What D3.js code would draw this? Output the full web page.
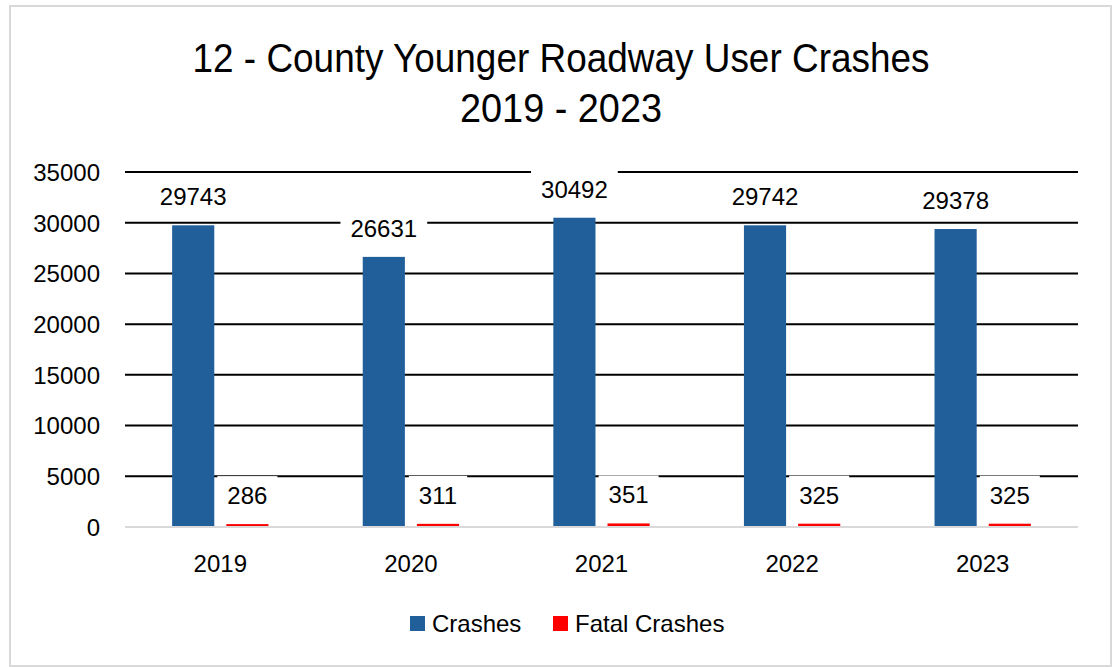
<!DOCTYPE html>
<html>
<head>
<meta charset="utf-8">
<script src="https://cdn.jsdelivr.net/npm/d3@7"></script>
<style>
  html, body { margin: 0; padding: 0; background: #fff; }
  svg { display: block; }
  text { font-family: "Liberation Sans", Arial, sans-serif; fill: #000; }
</style>
</head>
<body>
<svg id="chart" width="1115" height="667"></svg>
<script>
const years = ["2019", "2020", "2021", "2022", "2023"];
const seriesNames = ["Crashes", "Fatal Crashes"];
const crashes = [29743, 26631, 30492, 29742, 29378];
const fatalCrashes = [286, 311, 351, 325, 325];
const yTicks = [0, 5000, 10000, 15000, 20000, 25000, 30000, 35000];
const titleLines = ["12 - County Younger Roadway User Crashes", "2019 - 2023"];
const colors = ["#215F9A", "#FF0000"];

const svg = d3.select("#chart");
const W = 1115, H = 667;
const plot = { left: 125, right: 1078, top: 172, bottom: 527 };

// border
svg.append("rect").attr("x", 10).attr("y", 6).attr("width", 1101).attr("height", 660)
  .attr("fill", "#fff").attr("stroke", "#d9d9d9").attr("stroke-width", 2);

// title
const titleCx = 561;
svg.append("text").attr("x", titleCx).attr("y", 72).attr("text-anchor", "middle")
  .style("font-family", "'Liberation Sans Narrow', 'Liberation Sans', sans-serif")
  .style("font-stretch", "condensed")
  .attr("font-size", 40).attr("textLength", 737).attr("lengthAdjust", "spacingAndGlyphs")
  .text(titleLines[0]);
svg.append("text").attr("x", titleCx).attr("y", 122).attr("text-anchor", "middle")
  .style("font-family", "'Liberation Sans Narrow', 'Liberation Sans', sans-serif")
  .style("font-stretch", "condensed")
  .attr("font-size", 40).attr("textLength", 202).attr("lengthAdjust", "spacingAndGlyphs")
  .text(titleLines[1]);

const y = d3.scaleLinear().domain([0, 35000]).range([plot.bottom, plot.top]);
const x0 = d3.scaleBand().domain(years).range([plot.left, plot.right]).padding(0);
const x1 = d3.scaleBand().domain(seriesNames).range([0, x0.bandwidth()])
  .paddingInner(0.222).paddingOuter(0.87);

// gridlines (non-zero)
const gridG = svg.append("g");
gridG.selectAll("line").data(yTicks.filter(d => d > 0)).join("line")
  .attr("x1", plot.left).attr("x2", plot.right)
  .attr("y1", d => y(d)).attr("y2", d => y(d))
  .attr("stroke", "#000").attr("stroke-width", 2);

// y axis labels
const yAxis = d3.axisLeft(y).tickValues(yTicks).tickSize(0).tickPadding(0).tickFormat(d3.format("d"));
const yg = svg.append("g").attr("transform", `translate(100,0)`).call(yAxis);
yg.select(".domain").remove();
yg.selectAll("text").attr("font-size", 24).style("font-family", "'Liberation Sans', Arial, sans-serif")
  .attr("fill", "#000").attr("dy", "0.35em");

// data rows
const rows = years.map((yr, i) => ({ year: yr, values: [crashes[i], fatalCrashes[i]] }));

const groups = svg.append("g").selectAll("g").data(rows).join("g")
  .attr("transform", d => `translate(${x0(d.year)},0)`);

groups.selectAll("rect").data(d => d.values.map((v, j) => ({ s: seriesNames[j], v, j }))).join("rect")
  .attr("x", d => x1(d.s)).attr("width", x1.bandwidth())
  .attr("y", d => y(d.v)).attr("height", d => y(0) - y(d.v))
  .attr("fill", d => colors[d.j]);

// zero axis line
svg.append("line").attr("x1", plot.left).attr("x2", plot.right)
  .attr("y1", y(0)).attr("y2", y(0)).attr("stroke", "#d9d9d9").attr("stroke-width", 2);

// data labels with white boxes
const labelG = svg.append("g");
rows.forEach(r => {
  r.values.forEach((v, j) => {
    const cx = x0(r.year) + x1(seriesNames[j]) + x1.bandwidth() / 2;
    const by = y(v) - 20;
    const g = labelG.append("g");
    const rect = g.append("rect").attr("fill", "#fff");
    const t = g.append("text").attr("x", cx).attr("y", by).attr("text-anchor", "middle")
      .attr("font-size", 24).text(v);
    const bb = t.node().getBBox();
    rect.attr("x", bb.x - 10).attr("y", by - 18 - 10).attr("width", bb.width + 20).attr("height", 18 + 20);
  });
});

// x axis labels
const xAxis = d3.axisBottom(x0).tickSize(0).tickPadding(0);
const xg = svg.append("g").attr("transform", `translate(0,572)`).call(xAxis);
xg.select(".domain").remove();
xg.selectAll("text").attr("font-size", 24).attr("dy", 0).attr("y", 0)
  .style("font-family", "'Liberation Sans', Arial, sans-serif").attr("fill", "#000");

// legend
const legendItems = [
  { name: seriesNames[0], color: colors[0], x: 410 },
  { name: seriesNames[1], color: colors[1], x: 553 }
];
const lg = svg.append("g");
legendItems.forEach(it => {
  lg.append("rect").attr("x", it.x).attr("y", 616).attr("width", 15).attr("height", 15).attr("fill", it.color);
  lg.append("text").attr("x", it.x + 22).attr("y", 632).attr("font-size", 24).text(it.name);
});
</script>
</body>
</html>
